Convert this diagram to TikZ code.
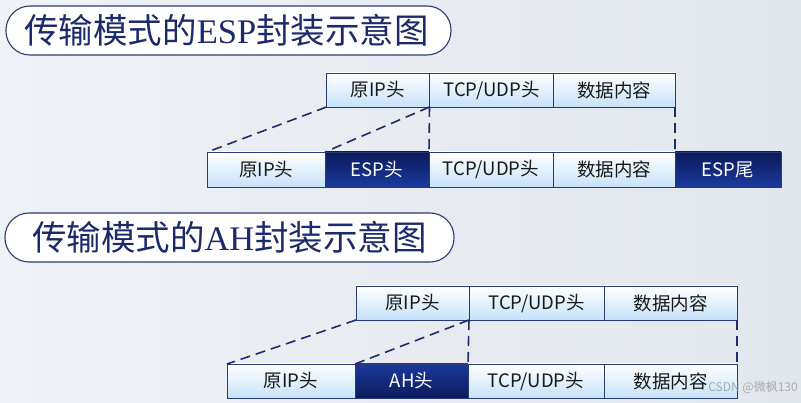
\documentclass[tikz,border=0pt]{standalone}
\usepackage{fontspec}
\setmainfont{Noto Sans CJK SC}
\newfontfamily\cjk{Noto Sans CJK SC}
\newfontfamily\tms{Liberation Serif}
\usetikzlibrary{shadings}
\definecolor{bgA}{HTML}{EEF1F5}
\definecolor{bgB}{HTML}{E2E7EE}
\definecolor{navy}{HTML}{1B2A6B}
\definecolor{boxline}{HTML}{2A3A78}
\definecolor{lblue}{HTML}{C6E2F8}
\definecolor{dtop}{HTML}{0B1B5A}
\definecolor{dbot}{HTML}{1B3A9E}
\definecolor{dashc}{HTML}{1F2D6A}
\begin{document}
\begin{tikzpicture}[x=1pt,y=-1pt,
  pill/.style={draw=boxline, line width=1.1pt, fill=white, rounded corners=24pt,
    anchor=north west, inner sep=0pt, outer sep=0pt, text=navy},
  lbox/.style={draw=boxline, line width=0.8pt, top color=white, bottom color=lblue,
    anchor=north west, inner sep=0pt, outer sep=0pt, text=black!90,
    font=\fontsize{18.5}{18.5}\selectfont},
  dboxdown/.style={draw=boxline, line width=0.8pt, top color=dtop, bottom color=dbot,
    anchor=north west, inner sep=0pt, outer sep=0pt, text=white,
    font=\fontsize{18.5}{18.5}\selectfont},
  dboxup/.style={draw=boxline, line width=0.8pt, top color=dbot, bottom color=dtop,
    anchor=north west, inner sep=0pt, outer sep=0pt, text=white,
    font=\fontsize{18.5}{18.5}\selectfont},
  conn/.style={draw=dashc, line width=1.6pt, dash pattern=on 10pt off 6pt},
  ttl/.style={font=\fontsize{34.5}{34.5}\selectfont}
]
\useasboundingbox (0,0) rectangle (801,403);
\shade[left color=bgA, right color=bgB] (0,0) rectangle (801,403);
% titles
\node[pill, minimum width=445, minimum height=49] (t1) at (6,6) {};
\node[ttl, text=navy] (t1txt) at ([xshift=-2pt]t1.center) {\cjk 传输模式的\tms ESP\cjk 封装示意图};
\node[pill, minimum width=449, minimum height=49] (t2) at (5,213) {};
\node[ttl, text=navy] (t2txt) at (t2.center) {\cjk 传输模式的\tms AH\cjk 封装示意图};
% ESP top
\node[lbox, minimum width=103, minimum height=34] (e1) at (326.5,73) {原IP头};
\node[lbox, minimum width=124, minimum height=34] (e2) at (429.5,73) {TCP/UDP头};
\node[lbox, minimum width=121.5, minimum height=34] (e3) at (553.5,73) {数据内容};
% ESP bottom
\node[lbox, minimum width=117.5, minimum height=35] (f1) at (207.5,152) {原IP头};
\node[dboxdown, minimum width=104, minimum height=35] (f2) at (325,152) {ESP头};
\node[lbox, minimum width=124, minimum height=35] (f3) at (429,152) {TCP/UDP头};
\node[lbox, minimum width=122, minimum height=35] (f4) at (553,152) {数据内容};
\node[dboxdown, minimum width=106, minimum height=35] (f5) at (675,152) {ESP尾};
\draw[conn] (e1.south west) -- (f1.north west);
\draw[conn] (e2.south west) -- (f2.north west);
\draw[conn] (e2.south west) -- (f3.north west);
\draw[conn] (e3.south east) -- (f4.north east);
% AH top
\node[lbox, minimum width=113, minimum height=34] (a1) at (356,286) {原IP头};
\node[lbox, minimum width=135, minimum height=34] (a2) at (469,286) {TCP/UDP头};
\node[lbox, minimum width=133, minimum height=34] (a3) at (604,286) {数据内容};
% AH bottom
\node[lbox, minimum width=128, minimum height=34] (b1) at (227,364) {原IP头};
\node[dboxup, minimum width=113, minimum height=34] (b2) at (355,364) {AH头};
\node[lbox, minimum width=136, minimum height=34] (b3) at (468,364) {TCP/UDP头};
\node[lbox, minimum width=133, minimum height=34] (b4) at (604,364) {数据内容};
\draw[conn] (a1.south west) -- (b1.north west);
\draw[conn] (a2.south west) -- (b2.north west);
\draw[conn] (a2.south west) -- (b3.north west);
\draw[conn] (a3.south east) -- (b4.north east);
% watermark
\node[anchor=east, text=gray!75, opacity=0.85, font=\fontsize{12}{12}\selectfont, inner sep=0pt] (wm) at (798,387) {CSDN @微枫130};
\end{tikzpicture}
\end{document}
